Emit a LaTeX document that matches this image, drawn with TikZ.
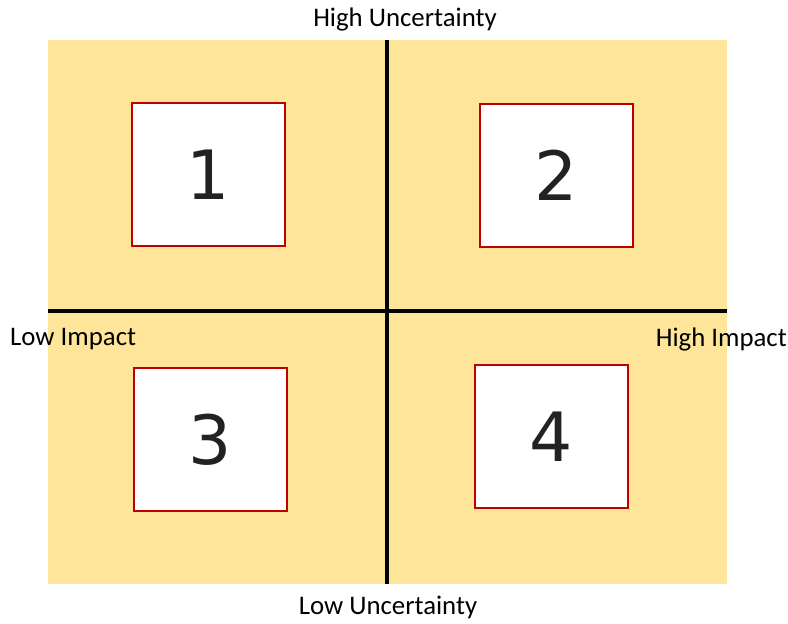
\documentclass[tikz,border=0pt]{standalone}
\usepackage{fontspec}
\setmainfont{Carlito}
\newfontfamily\numfont{DejaVu Sans}
\definecolor{bgfill}{HTML}{FFE599}
\definecolor{boxred}{HTML}{C00000}
\definecolor{numgray}{HTML}{222222}
\tikzset{
  qbox/.style={draw=boxred, line width=2pt, fill=white, minimum width=153pt, minimum height=143pt, inner sep=0pt, font=\numfont\fontsize{68}{68}\selectfont, text=numgray},
  axislbl/.style={font=\fontsize{26.8}{27}\selectfont, inner sep=0pt, text=black},
  axisline/.style={line width=3.5pt, black}
}
\begin{document}
\begin{tikzpicture}[x=1pt,y=-1pt]
\useasboundingbox (0,0) rectangle (788,624);
\fill[bgfill] (48,40) rectangle (727,584);
\coordinate (top) at (387,40);
\coordinate (bot) at (387,584);
\coordinate (lft) at (48,311);
\coordinate (rgt) at (727,311);
\draw[axisline] (top) -- (bot);
\draw[axisline] (lft) -- (rgt);
\node[qbox] (b1) at (208.5,174.5) {1};
\node[qbox] (b2) at (556.5,175.5) {2};
\node[qbox] (b3) at (210.5,439.5) {3};
\node[qbox] (b4) at (551,436.5) {4};
\node[axislbl] (hu) at (405,19) {High Uncertainty};
\node[axislbl] (lu) at (388,607.5) {Low Uncertainty};
\node[axislbl, anchor=west] (li) at (10,339) {Low Impact};
\node[axislbl, anchor=east] (hi) at (787,339) {High Impact};
\end{tikzpicture}
\end{document}
